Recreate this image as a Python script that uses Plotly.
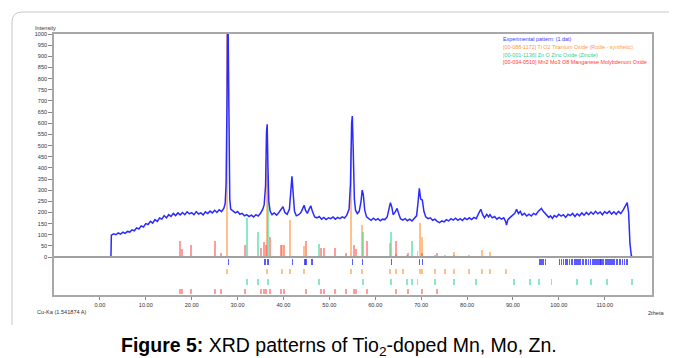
import plotly.graph_objects as go

# ---------------- data ----------------
exp_2theta = [
    -10.0, 2.4, 2.5, 3.0, 3.5, 4.0, 4.5, 5.0, 5.5, 6.0,
    6.5, 7.0, 7.5, 8.0, 8.5, 9.0, 9.5, 10.0, 10.5, 11.0,
    11.5, 12.0, 12.5, 13.0, 13.5, 14.0, 14.5, 15.0, 15.5, 16.0,
    16.5, 17.0, 17.5, 18.0, 18.5, 19.0, 19.5, 20.0, 20.5, 21.0,
    21.5, 22.0, 22.5, 23.0, 23.5, 24.0, 24.5, 25.0, 25.5, 26.0,
    26.5, 27.0, 27.3, 27.5, 27.7, 27.85, 28.0, 28.15, 28.3, 28.5,
    29.0, 29.5, 30.0, 30.5, 31.0, 31.5, 32.0, 32.5, 33.0, 33.5,
    34.0, 34.5, 35.0, 35.5, 35.8, 36.1, 36.3, 36.45, 36.6, 36.8,
    37.1, 37.5, 38.0, 38.5, 39.0, 39.5, 39.9, 40.3, 40.8, 41.3,
    41.6, 41.85, 42.1, 42.4, 42.8, 43.3, 43.8, 44.2, 44.5, 44.8,
    45.2, 45.6, 45.95, 46.3, 46.8, 47.3, 47.8, 48.3, 48.8, 49.3,
    49.8, 50.3, 50.8, 51.3, 51.8, 52.3, 52.8, 53.3, 53.8, 54.3,
    54.6, 54.85, 55.0, 55.2, 55.45, 55.7, 56.1, 56.5, 56.9, 57.15,
    57.4, 57.7, 58.1, 58.6, 59.1, 59.6, 60.1, 60.6, 61.1, 61.6,
    62.1, 62.6, 63.0, 63.3, 63.6, 63.9, 64.3, 64.75, 65.1, 65.5,
    66.0, 66.5, 67.0, 67.5, 68.0, 68.5, 69.0, 69.3, 69.6, 69.9,
    70.25, 70.6, 71.0, 71.5, 72.0, 72.5, 73.0, 73.5, 74.0, 74.5,
    75.0, 75.5, 76.0, 76.5, 77.0, 77.5, 78.0, 78.5, 79.0, 79.5,
    80.0, 80.5, 81.0, 81.5, 82.0, 82.5, 83.0, 83.4, 83.8, 84.3,
    84.7, 85.0, 85.5, 86.0, 86.5, 87.0, 87.5, 88.0, 88.4, 88.6,
    88.9, 89.4, 89.9, 90.4, 90.8, 91.2, 91.6, 92.0, 92.5, 93.0,
    93.5, 94.0, 94.5, 95.0, 95.5, 95.9, 96.2, 96.6, 97.0, 97.4,
    97.8, 98.2, 98.6, 99.0, 99.5, 100.0, 100.5, 101.0, 101.5, 102.0,
    102.5, 103.0, 103.5, 104.0, 104.5, 105.0, 105.5, 106.0, 106.5, 107.0,
    107.5, 108.0, 108.5, 109.0, 109.5, 110.0, 110.5, 111.0, 111.5, 112.0,
    112.5, 113.0, 113.5, 114.0, 114.5, 114.9, 115.2, 115.5, 115.8, 116.2,
    120.3,
]
exp_intensity = [
    0, 0, 98, 104, 100, 108, 103, 112, 106, 115,
    112, 122, 118, 131, 126, 140, 135, 150, 146, 160,
    152, 168, 160, 175, 170, 186, 176, 190, 182, 196,
    186, 198, 189, 200, 190, 203, 194, 199, 190, 204,
    193, 198, 189, 203, 195, 206, 198, 210, 200, 212,
    204, 218, 240, 330, 700, 1200, 900, 450, 260, 215,
    205, 198, 204, 192, 196, 185, 190, 182, 188, 180,
    190, 184, 196, 215, 235, 320, 560, 595, 420, 250,
    205, 190, 198, 188, 200, 215, 226, 200, 192, 215,
    300, 362, 290, 205, 185, 190, 200, 222, 232, 210,
    196, 215, 230, 205, 180, 176, 182, 170, 178, 168,
    176, 172, 180, 170, 178, 172, 180, 175, 188, 215,
    330, 600, 632, 480, 260, 210, 195, 205, 250, 300,
    280, 210, 180, 172, 165, 174, 166, 172, 163, 170,
    168, 180, 210, 244, 225, 190, 200, 218, 195, 172,
    166, 172, 163, 170, 162, 172, 185, 240, 308, 260,
    256, 205, 180, 172, 176, 165, 170, 160, 154, 162,
    158, 168, 162, 172, 166, 174, 165, 172, 164, 175,
    168, 176, 168, 178, 172, 195, 214, 190, 176, 192,
    180, 190, 176, 182, 170, 178, 170, 176, 160, 143,
    168, 178, 186, 196, 214, 195, 205, 188, 196, 184,
    192, 184, 196, 190, 204, 212, 218, 205, 196, 188,
    178, 185, 173, 186, 180, 192, 184, 190, 178, 192,
    186, 196, 182, 194, 185, 198, 188, 200, 190, 202,
    192, 205, 194, 202, 190, 204, 195, 206, 193, 203,
    192, 205, 195, 210, 230, 244, 200, 60, 5, 0,
    0,
]

# reference patterns (stick positions and heights)
rutile_2theta = [27.7, 36.4, 39.6, 41.5, 44.4, 54.8, 57.2, 63.2, 64.6, 66.1,
                 69.7, 70.2, 73.0, 75.2, 77.1, 80.5, 83.2, 85.1, 88.4]
rutile_int = [1000, 444, 55, 166, 51, 489, 142, 61, 15, 6,
              155, 91, 8, 8, 22, 8, 31, 21, 6]

zincite_2theta = [32.0, 34.5, 36.7, 47.7, 57.4, 63.4, 66.9, 68.0, 69.2, 73.0,
                  77.1, 81.9, 90.3, 93.7, 95.7, 98.4, 103.9, 107.1, 110.4, 116.0]
zincite_int = [173, 111, 370, 57, 111, 111, 8, 72, 27, 5,
               8, 5, 5, 4, 5, 5, 4, 4, 4, 4]

mnmo_2theta = [17.4, 17.8, 19.8, 25.1, 26.3, 31.7, 35.1, 35.7, 36.1, 37.0,
               39.4, 40.2, 45.0, 48.1, 48.9, 51.2, 53.7, 55.3, 55.8, 58.2,
               64.6, 67.2, 70.2, 73.5]
mnmo_int = [72, 36, 54, 72, 18, 54, 39, 69, 54, 91,
            54, 54, 72, 39, 39, 39, 18, 54, 36, 72,
            72, 18, 18, 18]

# peak list of the experimental pattern
peak_2theta = [28.0, 36.0, 36.5, 36.8, 41.9, 44.7, 44.9, 46.2, 55.0, 57.2,
               63.6, 69.6, 70.3, 95.9, 96.3, 96.7, 97.1,
               100.2, 100.6, 101.0, 101.5, 101.8, 102.3, 102.7, 103.0, 103.5, 103.9,
               104.2, 104.6, 105.1, 105.4, 105.8, 106.1, 106.5, 106.9, 107.3, 107.6,
               107.9, 108.3, 108.6, 108.8, 109.0, 109.2, 109.5, 109.8, 110.2, 110.5,
               110.8, 111.0, 111.2, 111.5, 111.8, 112.2, 112.5, 112.8, 113.2, 113.5,
               113.9, 114.3, 114.7, 115.0]

x_tick_vals = [0, 10, 20, 30, 40, 50, 60, 70, 80, 90, 100, 110]
x_tick_text = ["0.00", "10.00", "20.00", "30.00", "40.00", "50.00", "60.00",
               "70.00", "80.00", "90.00", "100.00", "110.00"]
y_tick_vals = [0, 50, 100, 150, 200, 250, 300, 350, 400, 450, 500,
               550, 600, 650, 700, 750, 800, 850, 900, 950, 1000]

legend_texts = [
    "Experimental pattern: (1.dat)",
    "[00-088-1172] Ti O2 Titanium Oxide (Rutile - synthetic)",
    "[00-001-1136] Zn O Zinc Oxide (Zincite)",
    "[00-034-0510] Mn2 Mo3 O8 Manganese Molybdenum Oxide",
]

# ---------------- styles ----------------
C_BLUE = "#2b2bff"
C_OR = "rgba(255,150,60,0.6)"
C_GR = "rgba(40,215,150,0.55)"
C_RD = "rgba(255,60,60,0.5)"
LEG_COLORS = ["#3b3bff", "#ff9a3c", "#2fcf95", "#ff3b3b"]
STICK_W = 0.42
PEAK_W = 0.28
ROW_H = 25

fig = go.Figure()

# main-panel sticks
fig.add_trace(go.Bar(x=rutile_2theta, y=rutile_int, width=STICK_W,
                     marker=dict(color=C_OR, line=dict(width=0))))
fig.add_trace(go.Bar(x=zincite_2theta, y=zincite_int, width=STICK_W,
                     marker=dict(color=C_GR, line=dict(width=0))))
fig.add_trace(go.Bar(x=mnmo_2theta, y=mnmo_int, width=STICK_W,
                     marker=dict(color=C_RD, line=dict(width=0))))

# lower-panel marker rows
fig.add_trace(go.Bar(x=peak_2theta, y=[ROW_H] * len(peak_2theta), base=-35,
                     width=PEAK_W, marker=dict(color="rgba(50,50,255,0.8)", line=dict(width=0))))
fig.add_trace(go.Bar(x=rutile_2theta, y=[ROW_H] * len(rutile_2theta), base=-78,
                     width=STICK_W, marker=dict(color=C_OR, line=dict(width=0))))
fig.add_trace(go.Bar(x=zincite_2theta, y=[ROW_H] * len(zincite_2theta), base=-123,
                     width=STICK_W, marker=dict(color=C_GR, line=dict(width=0))))
fig.add_trace(go.Bar(x=mnmo_2theta, y=[ROW_H] * len(mnmo_2theta), base=-166,
                     width=STICK_W, marker=dict(color=C_RD, line=dict(width=0))))

# experimental pattern
fig.add_trace(go.Scatter(x=exp_2theta, y=exp_intensity, mode="lines",
                         line=dict(color=C_BLUE, width=1.5)))

small = dict(family="Liberation Sans, Arial, sans-serif", size=5.6, color="#333")

# the page body adds an 8px offset; the figure is sized so the visible area is 677x358
fig.update_layout(
    width=669, height=350,
    margin=dict(l=46, r=25, t=26, b=63),
    paper_bgcolor="white", plot_bgcolor="white",
    showlegend=False, barmode="overlay", bargap=0,
    xaxis=dict(range=[-10, 120.3], tickvals=x_tick_vals, ticktext=x_tick_text,
               ticks="outside", ticklen=3, tickcolor="#888", tickfont=small,
               showline=True, linecolor="#a8a8a8", linewidth=2, mirror=True,
               showgrid=False, zeroline=False),
    yaxis=dict(range=[-170, 1000], tickvals=y_tick_vals,
               ticks="outside", ticklen=4, tickcolor="#888", tickfont=small,
               showline=True, linecolor="#a8a8a8", linewidth=1.5, mirror=True,
               showgrid=False, zeroline=False),
)

# zero baseline
fig.add_shape(type="line", xref="paper", x0=0, x1=1, yref="y", y0=0, y1=0,
              line=dict(color="#a0a0a0", width=2))

# rounded outer frame (left/top edges)
fig.add_shape(type="path", xref="paper", yref="paper",
              path="M -0.0702,-0.115 L -0.0702,1.046 Q -0.0702,1.0843 -0.0535,1.0843 L 1.05,1.0843",
              line=dict(color="#c8c8c8", width=1))

# legend text lines
leg_y = [977, 941, 908, 874]
for t, yy, c in zip(legend_texts, leg_y, LEG_COLORS):
    fig.add_annotation(x=87.4, y=yy, xref="x", yref="y", text=t, showarrow=False,
                       xanchor="left", yanchor="middle",
                       font=dict(family="Liberation Sans, Arial, sans-serif", size=5.4, color=c))

fig.add_annotation(x=-0.015, y=1.023, xref="paper", yref="paper", text="Intensity",
                   showarrow=False, xanchor="center", yanchor="middle", font=small)
fig.add_annotation(x=-0.0318, y=-0.065, xref="paper", yref="paper", text="Cu-Ka (1.541874 A)",
                   showarrow=False, xanchor="left", yanchor="middle", font=small)
fig.add_annotation(x=0.99, y=-0.069, xref="paper", yref="paper", text="2theta",
                   showarrow=False, xanchor="left", yanchor="middle", font=small)

fig.add_annotation(x=0.4758, y=-0.196, xref="paper", yref="paper",
                   text="<b>Figure 5:</b> XRD patterns of Tio<sub>2</sub>-doped Mn, Mo, Zn.",
                   showarrow=False, xanchor="center", yanchor="middle",
                   font=dict(family="Liberation Sans, Arial, sans-serif", size=19.5, color="black"))

fig.write_html("out.html")
